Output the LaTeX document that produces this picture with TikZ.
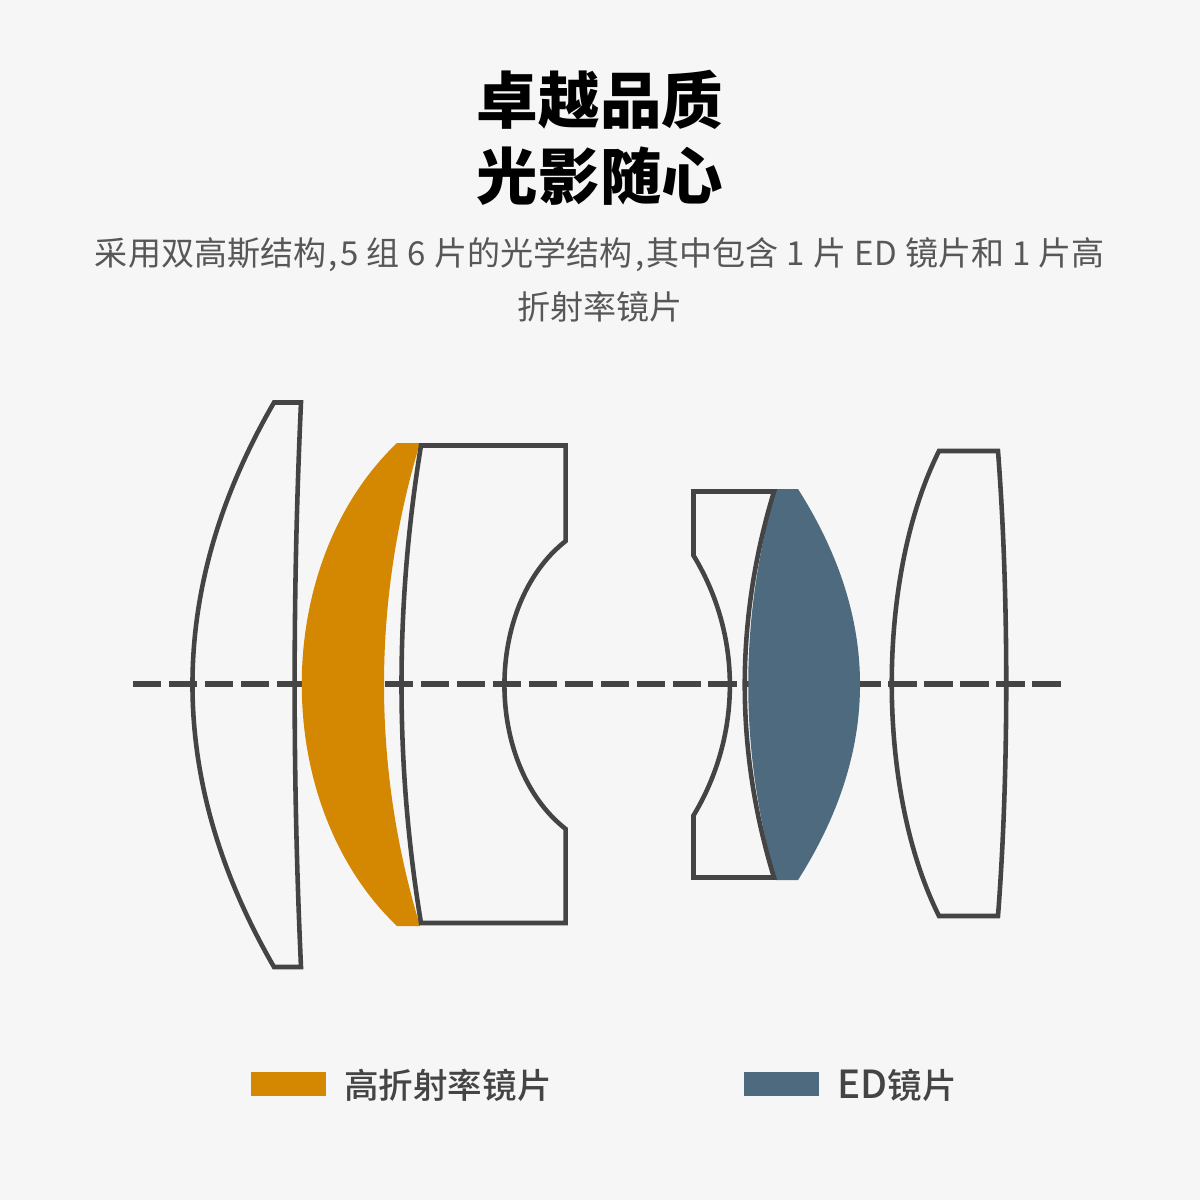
\documentclass[tikz,border=0pt]{standalone}
\usepackage{fontspec}
\setmainfont{Noto Sans CJK SC}
\newfontfamily\cjkbold[BoldFont={Noto Sans CJK SC Bold}]{Noto Sans CJK SC Bold}
\newfontfamily\cjkmedium{Noto Sans CJK SC Medium}
\definecolor{bgc}{HTML}{F6F6F6}
\definecolor{ink}{HTML}{444444}
\definecolor{orangeglass}{HTML}{D48700}
\definecolor{blueglass}{HTML}{4D6A7F}
\newcommand{\cma}{\kern2pt,\kern2pt}
\tikzset{
  lensline/.style={draw=ink,line width=3.9pt,line join=miter,miter limit=10},
  axisline/.style={draw=ink,line width=4.5pt,dash pattern=on 24.2pt off 6.5pt},
  titletext/.style={black,font={\fontsize{52.5}{60}\selectfont\bfseries},inner sep=0pt},
  subtext/.style={text=ink!90,font={\fontsize{28.2}{34}\selectfont\spaceskip=7pt\relax},inner sep=0pt},
  legendtext/.style={text=ink,font={\cjkmedium\fontsize{29.5}{34}\selectfont},inner sep=0pt,anchor=west},
}
\begin{document}
\begin{tikzpicture}[x=0.03cm,y=-0.03cm]
\useasboundingbox (0,0) rectangle (1200,1200);
\fill[bgc] (0,0) rectangle (1200,1200);
\coordinate (axisL) at (133,684);
\coordinate (axisR) at (1061.5,684);
\path[axisline] (axisL) -- (axisR);
% orange glass
\fill[orangeglass] (397,443) -- (420,443)
  .. controls (372,602) and (372,767) .. (420,926) -- (397,926)
  .. controls (270,805) and (270,564) .. (397,443) -- cycle;
% blue glass
\fill[blueglass] (776,489) -- (798,489)
  .. controls (880.7,619) and (880.7,750) .. (798,880) -- (776,880)
  .. controls (739,750) and (739,619) .. (776,489) -- cycle;
% lens 1
\path[lensline] (274,402.5) -- (301,402.5)
  .. controls (292.5,590) and (292.5,779) .. (301,967) -- (274,967)
  .. controls (165.3,779) and (165.3,590) .. (274,402.5) -- cycle;
% lens 2
\path[lensline] (421,445.5) -- (565.7,445.5) -- (565.7,541)
  .. controls (484,605) and (484,765) .. (565.7,829) -- (565.7,923) -- (421,923)
  .. controls (395,765) and (395,605) .. (421,445.5) -- cycle;
% lens 3
\path[lensline] (693.5,491.5) -- (774,491.5)
  .. controls (735,620) and (735,750) .. (774,877.5) -- (693.5,877.5) -- (693.5,815.5)
  .. controls (742,735) and (742,635) .. (693.5,555.5) -- cycle;
% lens 4
\path[lensline] (939,451) -- (998,451)
  .. controls (1009,595) and (1009,772) .. (998,916) -- (939,916)
  .. controls (876,790) and (876,577) .. (939,451) -- cycle;
% text
\node[titletext] (t1) at (600,100) {卓越品质};
\node[titletext] (t2) at (600,176) {光影随心};
\node[subtext] (s1) at (600,254.5) {采用双高斯结构\cma 5 组 6 片的光学结构\cma 其中包含 1 片 ED 镜片和 1 片高};
\node[subtext] (s2) at (600,307) {折射率镜片};
\fill[orangeglass] (251,1072) rectangle (326,1096);
\fill[blueglass] (744,1072) rectangle (819,1096);
\node[legendtext] (l1) at (344,1085) {高折射率镜片};
\node[legendtext] (l2) at (837,1085) {{\fontsize{33}{34}\selectfont ED}镜片};
\end{tikzpicture}
\end{document}
